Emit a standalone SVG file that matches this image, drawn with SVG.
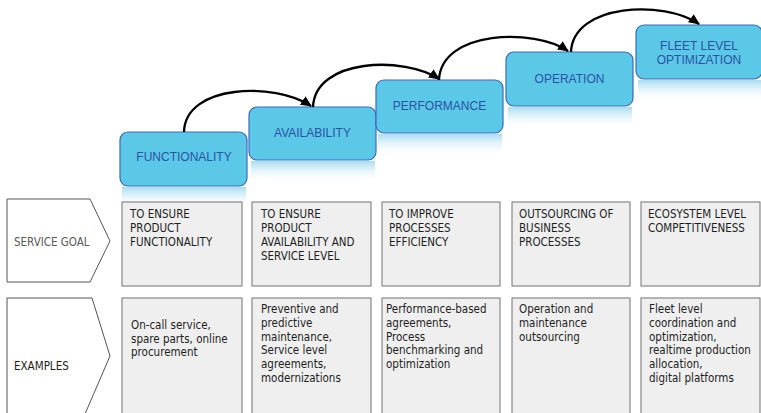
<svg xmlns="http://www.w3.org/2000/svg" width="761" height="413" viewBox="0 0 761 413">
<defs>
<linearGradient id="refl" x1="0" y1="0" x2="0" y2="1">
<stop offset="0" stop-color="#a3dbf0" stop-opacity="0.95"/>
<stop offset="1" stop-color="#ffffff" stop-opacity="0"/>
</linearGradient>
<marker id="ah" markerUnits="userSpaceOnUse" markerWidth="12" markerHeight="10" refX="10" refY="5" orient="auto">
<path d="M0,0 L11,5 L0,10 Z" fill="#000"/>
</marker>
<style>
.stage rect.box{fill:#5bc8e8;stroke:#3d68bd;stroke-width:1.2}
.stage rect.refl{fill:url(#refl);stroke:none}
.stage text{font-family:"Liberation Sans",Arial,sans-serif;font-size:12px;fill:#2b52a3;text-anchor:middle}
.cell rect{fill:#efefef;stroke:#737373;stroke-width:1}
.cell text,.lbl text{font-family:"DejaVu Sans Condensed","DejaVu Sans",sans-serif;font-size:11.5px;fill:#1e1e1e}
.lbl path{fill:#fff;stroke:#555;stroke-width:1}
.lbl text.g{fill:#595959}
.conn path{fill:none;stroke:#000;stroke-width:2.3;marker-end:url(#ah)}
</style>
</defs>
<rect width="761" height="413" fill="#fff"/>

<g id="node-functionality" class="stage">
<rect class="refl" x="122" y="187" width="124" height="22"/>
<rect class="box" x="120" y="132" width="127" height="54" rx="8"/>
<text x="184" y="161">FUNCTIONALITY</text>
</g>
<g id="node-availability" class="stage">
<rect class="refl" x="251" y="161" width="124" height="22"/>
<rect class="box" x="249" y="107" width="127" height="53" rx="8"/>
<text x="312.5" y="137">AVAILABILITY</text>
</g>
<g id="node-performance" class="stage">
<rect class="refl" x="378" y="134" width="124" height="22"/>
<rect class="box" x="376" y="80" width="127" height="53" rx="8"/>
<text x="439.5" y="110">PERFORMANCE</text>
</g>
<g id="node-operation" class="stage">
<rect class="refl" x="508" y="107" width="124" height="22"/>
<rect class="box" x="506" y="52" width="127" height="54" rx="8"/>
<text x="569.5" y="83">OPERATION</text>
</g>
<g id="node-fleet" class="stage">
<rect class="refl" x="638" y="80" width="124" height="22"/>
<rect class="box" x="636" y="25" width="126" height="54" rx="8"/>
<text x="699" y="50">FLEET LEVEL</text>
<text x="699" y="64">OPTIMIZATION</text>
</g>

<g id="connectors" class="conn">
<path d="M184,132 C185,84 275,82 311,106"/>
<path d="M313,107 C315,58 405,56 439,79"/>
<path d="M439,80 C441,30 535,28 568,51"/>
<path d="M571,52 C573,3 665,0 699,24"/>
</g>

<g id="label-service-goal" class="lbl">
<path d="M7,199 L90,199 L110,241 L90,282 L7,282 Z"/>
<text class="g" x="14" y="246">SERVICE GOAL</text>
</g>
<g id="label-examples" class="lbl">
<path d="M7,298 L92,298 L110,356 L85,414 L7,414 Z"/>
<text x="14" y="370">EXAMPLES</text>
</g>

<g id="goal-1" class="cell">
<rect x="122" y="202" width="120" height="84"/>
<text x="130" y="218">TO ENSURE</text>
<text x="130" y="232">PRODUCT</text>
<text x="130" y="246">FUNCTIONALITY</text>
</g>
<g id="goal-2" class="cell">
<rect x="252" y="202" width="119" height="84"/>
<text x="261" y="218">TO ENSURE</text>
<text x="261" y="232">PRODUCT</text>
<text x="261" y="246">AVAILABILITY AND</text>
<text x="261" y="260">SERVICE LEVEL</text>
</g>
<g id="goal-3" class="cell">
<rect x="382" y="202" width="118" height="84"/>
<text x="389" y="218">TO IMPROVE</text>
<text x="389" y="232">PROCESSES</text>
<text x="389" y="246">EFFICIENCY</text>
</g>
<g id="goal-4" class="cell">
<rect x="512" y="202" width="118" height="84"/>
<text x="519" y="218">OUTSOURCING OF</text>
<text x="519" y="232">BUSINESS</text>
<text x="519" y="246">PROCESSES</text>
</g>
<g id="goal-5" class="cell">
<rect x="641" y="202" width="119" height="84"/>
<text x="648" y="218">ECOSYSTEM LEVEL</text>
<text x="648" y="232">COMPETITIVENESS</text>
</g>

<g id="example-1" class="cell">
<rect x="122" y="298" width="120" height="120"/>
<text x="131" y="329">On-call service,</text>
<text x="131" y="343">spare parts, online</text>
<text x="131" y="356">procurement</text>
</g>
<g id="example-2" class="cell">
<rect x="252" y="298" width="119" height="120"/>
<text x="261" y="313">Preventive and</text>
<text x="261" y="327">predictive</text>
<text x="261" y="340.5">maintenance,</text>
<text x="261" y="354">Service level</text>
<text x="261" y="368">agreements,</text>
<text x="261" y="381.5">modernizations</text>
</g>
<g id="example-3" class="cell">
<rect x="382" y="298" width="118" height="120"/>
<text x="386" y="313">Performance-based</text>
<text x="386" y="327">agreements,</text>
<text x="386" y="340.5">Process</text>
<text x="386" y="354">benchmarking and</text>
<text x="386" y="368">optimization</text>
</g>
<g id="example-4" class="cell">
<rect x="512" y="298" width="118" height="120"/>
<text x="519" y="313">Operation and</text>
<text x="519" y="327">maintenance</text>
<text x="519" y="340.5">outsourcing</text>
</g>
<g id="example-5" class="cell">
<rect x="641" y="298" width="119" height="120"/>
<text x="649" y="313">Fleet level</text>
<text x="649" y="327">coordination and</text>
<text x="649" y="340.5">optimization,</text>
<text x="649" y="354">realtime production</text>
<text x="649" y="368">allocation,</text>
<text x="649" y="381.5">digital platforms</text>
</g>
</svg>
